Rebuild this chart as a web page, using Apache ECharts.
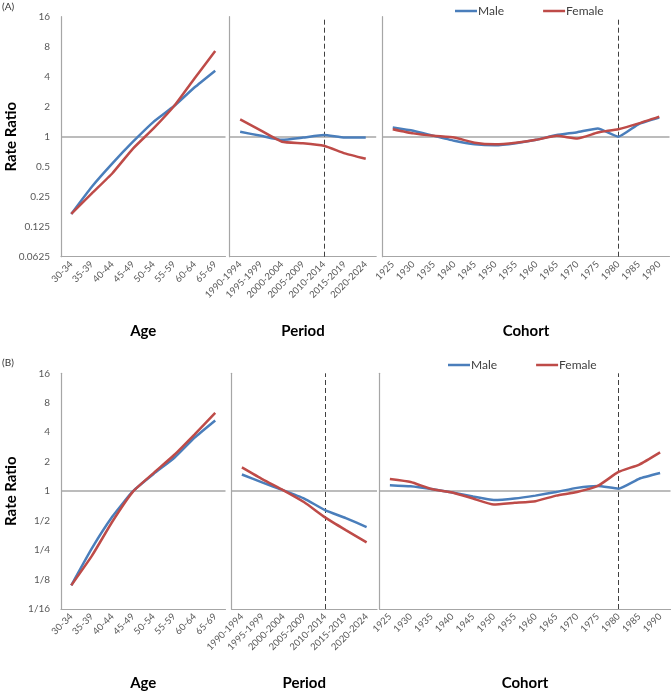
<!DOCTYPE html>
<html><head><meta charset="utf-8">
<script src="https://cdn.jsdelivr.net/npm/echarts@6/dist/echarts.min.js"></script>
<style>html,body{margin:0;padding:0;background:#fff}#c{width:671px;height:692px}</style>
</head><body><div id="c"></div>
<script>
const ageCats = ['30-34','35-39','40-44','45-49','50-54','55-59','60-64','65-69'];
const periodCats = ['1990-1994','1995-1999','2000-2004','2005-2009','2010-2014','2015-2019','2020-2024'];
const cohortCats = ['1925','1930','1935','1940','1945','1950','1955','1960','1965','1970','1975','1980','1985','1990'];

// Panel A
const aAgeMale = [0.168,0.315,0.54,0.89,1.41,2.03,3.13,4.6];
const aAgeFemale = [0.168,0.27,0.43,0.76,1.21,2.03,3.86,7.25];
const aPeriodMale = [1.12,1.02,0.93,0.98,1.04,0.98,0.98];
const aPeriodFemale = [1.49,1.15,0.89,0.86,0.81,0.68,0.60];
const aCohortMale = [1.24,1.15,1.02,0.91,0.84,0.82,0.86,0.93,1.04,1.11,1.21,1.0,1.34,1.56];
const aCohortFemale = [1.19,1.08,1.02,0.98,0.87,0.84,0.87,0.93,1.02,0.96,1.1,1.19,1.36,1.59];

// Panel B
const bAgeMale = [0.109,0.26,0.55,1.0,1.5,2.18,3.53,5.28];
const bAgeFemale = [0.109,0.218,0.49,0.99,1.53,2.34,3.81,6.3];
const bPeriodMale = [1.48,1.22,1.02,0.84,0.64,0.53,0.43];
const bPeriodFemale = [1.75,1.32,1.02,0.77,0.54,0.40,0.30];
const bCohortMale = [1.15,1.12,1.05,0.97,0.88,0.81,0.84,0.9,0.98,1.08,1.13,1.06,1.34,1.53];
const bCohortFemale = [1.33,1.24,1.05,0.97,0.84,0.73,0.76,0.79,0.9,0.98,1.13,1.57,1.87,2.49];

const panelLabels = ['(A)','(B)'];
const axisTitles = ['Age','Period','Cohort'];
const yTitle = 'Rate Ratio';
const periodRef = '2010-2014';
const cohortRef = '1980';

const BLUE = '#4a7ebb', RED = '#be4b48', AX = '#a6a6a6', TXT = '#595959';
const FONT = 'Lato, "Open Sans", sans-serif';

const chart = echarts.init(document.getElementById('c'), null, {renderer:'canvas'});

const panels = [
  {top:16.7, h:240, grids:[[61,164.5],[229.7,146.5],[382.5,287]],
   data:[[aAgeMale,aAgeFemale],[aPeriodMale,aPeriodFemale],[aCohortMale,aCohortFemale]],
   fmt: v => String(+(+v).toPrecision(6))},
  {top:373.3, h:239, grids:[[61,164.5],[231.5,145.5],[379.5,291]],
   data:[[bAgeMale,bAgeFemale],[bPeriodMale,bPeriodFemale],[bCohortMale,bCohortFemale]],
   fmt: v => (+v >= 1 ? String(Math.round(+v)) : '1/' + Math.round(1/(+v)))}
];
const catsList = [ageCats, periodCats, cohortCats];
const refs = [null, periodRef, cohortRef];

const grid=[], xAxis=[], yAxis=[], series=[];
panels.forEach((p, pi) => {
  p.grids.forEach((g, gi) => {
    const idx = grid.length;
    grid.push({left:g[0], top:p.top, width:g[1], height:p.h, containLabel:false});
    xAxis.push({type:'category', gridIndex:idx, data:catsList[gi], boundaryGap:true,
      axisLine:{lineStyle:{color:AX, width:1.2}}, axisTick:{show:false},
      axisLabel:{interval:0, rotate:45, fontSize:9.5, color:TXT, margin:6, fontFamily:FONT},
      name:axisTitles[gi], nameLocation:'middle', nameGap:67, nameMoveOverlap:false,
      nameTextStyle:{fontSize:15, fontWeight:'bold', color:'#000', fontFamily:FONT}});
    yAxis.push({type:'log', logBase:2, gridIndex:idx, min:0.0625, max:16, interval:1,
      axisLine:{show:true, lineStyle:{color:AX, width:1.2}}, axisTick:{show:false},
      splitLine:{show:false},
      axisLabel:{show: gi===0, fontSize:10, color:TXT, margin:11, fontFamily:FONT, formatter:p.fmt},
      name: gi===0 ? yTitle : '', nameLocation:'middle', nameGap:42, nameRotate:90, nameMoveOverlap:false,
      nameTextStyle:{fontSize:15, fontWeight:'bold', color:'#000', fontFamily:FONT}});
    const mlData = [{yAxis:1, lineStyle:{color:AX, width:1.5, type:'solid'}}];
    if (refs[gi]) mlData.push({xAxis:refs[gi], lineStyle:{color:'#404040', width:1, type:[5,3]}});
    const [m, f] = p.data[gi];
    series.push({type:'line', name:'Male', xAxisIndex:idx, yAxisIndex:idx, data:m,
      showSymbol:false, smooth:0.15, lineStyle:{color:BLUE, width:2.5}, itemStyle:{color:BLUE}, z:3,
      markLine:{silent:true, symbol:'none', label:{show:false}, z:1, data:mlData}});
    series.push({type:'line', name:'Female', xAxisIndex:idx, yAxisIndex:idx, data:f,
      showSymbol:false, smooth:0.15, lineStyle:{color:RED, width:2.5}, itemStyle:{color:RED}, z:4});
  });
});

const legendCommon = {data:['Male','Female'], icon:'rect', itemWidth:22, itemHeight:2.5, itemGap:39,
  textStyle:{fontSize:12, color:'#404040', fontFamily:FONT, padding:[0,0,0,-4]}, selectedMode:false};

chart.setOption({
  animation:false,
  textStyle:{fontFamily:FONT},
  grid, xAxis, yAxis, series,
  legend:[Object.assign({left:450, top:0}, legendCommon), Object.assign({left:443, top:354}, legendCommon)],
  graphic:[
    {type:'text', left:2, top:2, style:{text:panelLabels[0], fontSize:10, fill:'#333', fontFamily:FONT}},
    {type:'text', left:2, top:358, style:{text:panelLabels[1], fontSize:10, fill:'#333', fontFamily:FONT}}
  ]
});
</script></body></html>
